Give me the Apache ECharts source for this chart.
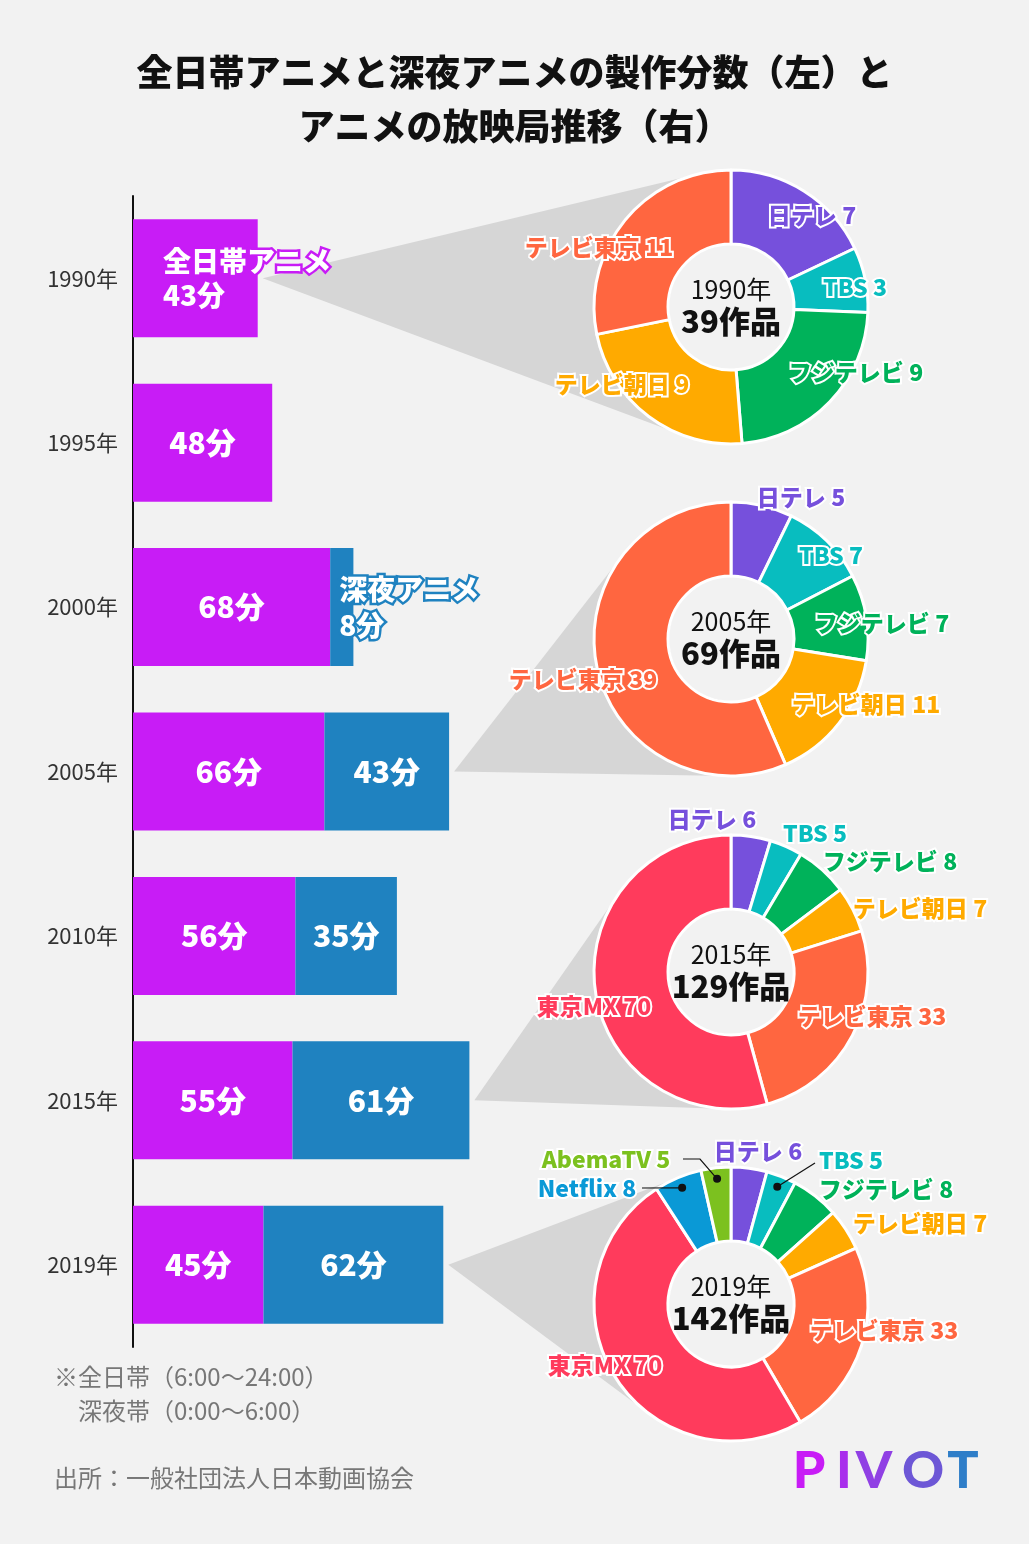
<!DOCTYPE html>
<html><head><meta charset="utf-8">
<script src="https://cdn.jsdelivr.net/npm/echarts@6/dist/echarts.min.js"></script>
<style>html,body{margin:0;padding:0;background:#f2f2f2}#c{width:1029px;height:1544px}</style>
</head><body><div id="c"></div>
<script>
// ---- data ----
const years = ['1990年','1995年','2000年','2005年','2010年','2015年','2019年'];
const dayMinutes = [43, 48, 68, 66, 56, 55, 45];
const nightMinutes = [null, null, 8, 43, 35, 61, 62];

const pieYears = ['1990年', '2005年', '2015年', '2019年'];
const stations1990 = ['日テレ','TBS','フジテレビ','テレビ朝日','テレビ東京'];
const counts1990 = [7, 3, 9, 9, 11];
const stations2005 = ['日テレ','TBS','フジテレビ','テレビ朝日','テレビ東京'];
const counts2005 = [5, 7, 7, 11, 39];
const stations2015 = ['日テレ','TBS','フジテレビ','テレビ朝日','テレビ東京','東京MX'];
const counts2015 = [6, 5, 8, 7, 33, 70];
const stations2019 = ['日テレ','TBS','フジテレビ','テレビ朝日','テレビ東京','東京MX','Netflix','AbemaTV'];
const counts2019 = [6, 5, 8, 7, 33, 70, 8, 5];

// ---- styles / layout ----
const FONT = "'Noto Sans CJK JP','Noto Sans',sans-serif";
const BG = '#f2f2f2';
const PURPLE = '#C81CF6', BLUE = '#1F82C0';
const stationColors = {'日テレ':'#7650DC','TBS':'#08BDBF','フジテレビ':'#00B25A','テレビ朝日':'#FFAA00','テレビ東京':'#FF6640','東京MX':'#FF3B5C','Netflix':'#0A99D6','AbemaTV':'#7CC11F'};
const R_IN = 63, R_OUT = 137;

const pies = [
  {names: stations1990, values: counts1990, bar: 0, center: [731, 307],
   labels: [[812,215],[855,287],[856,372],[622,384],[599,247]]},
  {names: stations2005, values: counts2005, bar: 3, center: [731, 639],
   labels: [[801,497],[831,555],[882,623],[866,704],[583,679]]},
  {names: stations2015, values: counts2015, bar: 5, center: [731, 972],
   labels: [[712,819],[815,833],[890,861],[920,908],[872,1016],[594,1006]]},
  {names: stations2019, values: counts2019, bar: 6, center: [731, 1304],
   labels: [[758,1151],[851,1160],[886,1189],[920,1223],[884,1330],[605,1365],[587,1188],[606,1159]]}
];
// leader lines in 2019 donut: [dataIndex, points from label]
const leaders = [[6, [[642,1188]]], [7, [[683,1159],[700,1159]]], [1, [[815,1163]]]];

const labelBase = {color:'#fff', fontFamily: FONT, fontWeight: 900, fontSize: 30};

const series = [
  {type:'bar', name:'全日帯アニメ', stack:'t', barWidth: 118, itemStyle:{color: PURPLE},
   label: Object.assign({show:true, position:'inside', formatter:'{c}分'}, labelBase),
   data: dayMinutes.map((v, i) => i === 0 ? {value: v, label: {formatter:'全日帯アニメ\n{c}分', position:[30,59], align:'left', verticalAlign:'middle', fontSize:28, lineHeight:34, textBorderColor: PURPLE, textBorderWidth: 5}} : v)},
  {type:'bar', name:'深夜アニメ', stack:'t', barWidth: 118, itemStyle:{color: BLUE},
   label: Object.assign({show:true, position:'inside', formatter:'{c}分'}, labelBase),
   data: nightMinutes.map((v, i) => i === 2 ? {value: v, label: {formatter:'深夜アニメ\n{c}分', position:[9,59], align:'left', verticalAlign:'middle', fontSize:28, lineHeight:36, textBorderColor: BLUE, textBorderWidth: 5}} : (v === null ? '-' : v))}
];

pies.forEach((p) => {
  series.push({
    type:'pie', center: p.center, radius:[R_IN, R_OUT], startAngle: 90, clockwise: true,
    avoidLabelOverlap: false, silent: true,
    itemStyle: {borderColor:'#fff', borderWidth: 3},
    label: {show:true, position:'inside', formatter:'{b} {c}', fontFamily: FONT, fontWeight: 900, fontSize: 23, textBorderColor:'#fff', textBorderWidth: 4},
    labelLine: {show:false},
    labelLayout: function (params) {
      const q = p.labels[params.dataIndex];
      return {x: q[0], y: q[1], align:'center', verticalAlign:'middle'};
    },
    data: p.names.map((n, i) => ({name: n, value: p.values[i], itemStyle:{color: stationColors[n]}, label:{color: stationColors[n]}}))
  });
});

const chart = echarts.init(document.getElementById('c'), null, {renderer:'canvas'});
const option = {
  backgroundColor: BG,
  animation: false,
  title: {text:'全日帯アニメと深夜アニメの製作分数（左）と\nアニメの放映局推移（右）', left:'center', top: 45, padding: 0,
    textStyle:{fontFamily: FONT, fontSize: 36, fontWeight: 900, lineHeight: 54, color:'#111'}},
  grid: {left: 133, top: 196, bottom: 197, width: 580},
  xAxis: {type:'value', min: 0, max: 200, show: false},
  yAxis: {type:'category', inverse: true, data: years,
    axisLine:{lineStyle:{color:'#111', width: 2}}, axisTick:{show:false},
    axisLabel:{fontFamily: FONT, fontSize: 22, color:'#333', margin: 15}},
  series: series
};
chart.setOption(option);

// ---- derived graphics ----
const graphics = [];
pies.forEach((p, k) => {
  const total = (dayMinutes[p.bar] || 0) + (nightMinutes[p.bar] || 0);
  const end = chart.convertToPixel({gridIndex: 0}, [total, p.bar]);
  const ax = end[0] + 5, ay = end[1];
  const cx = p.center[0], cy = p.center[1];
  const dx = cx - ax, dy = cy - ay, d = Math.sqrt(dx*dx + dy*dy);
  const base = Math.atan2(dy, dx), alpha = Math.asin(R_OUT / d), L = Math.sqrt(d*d - R_OUT*R_OUT);
  const t1 = [ax + L*Math.cos(base - alpha), ay + L*Math.sin(base - alpha)];
  const t2 = [ax + L*Math.cos(base + alpha), ay + L*Math.sin(base + alpha)];
  graphics.push({type:'polygon', z: 0, silent: true, shape:{points:[[ax,ay], t1, [cx,cy], t2]}, style:{fill:'#D6D6D6'}});
  graphics.push({type:'circle', z: 1, silent: true, shape:{cx: cx, cy: cy, r: R_IN - 1}, style:{fill: BG}});
  const sum = p.values.reduce((a, b) => a + b, 0);
  graphics.push({type:'text', z: 100, x: cx, y: cy - 18, style:{text: pieYears[k], fontFamily: FONT, fontSize: 25, fill:'#111', align:'center', verticalAlign:'middle'}});
  graphics.push({type:'text', z: 100, x: cx, y: cy + 14, style:{text: sum + '作品', fontFamily: FONT, fontSize: 31, fontWeight: 900, fill:'#111', align:'center', verticalAlign:'middle'}});
});
// leader lines (2019)
(function () {
  const p = pies[3];
  const sum = p.values.reduce((a, b) => a + b, 0);
  leaders.forEach(([idx, pts]) => {
    let before = 0;
    for (let i = 0; i < idx; i++) before += p.values[i];
    const mid = (before + p.values[idx] / 2) / sum * 2 * Math.PI;
    const r = 126;
    const dot = [p.center[0] + r*Math.sin(mid), p.center[1] - r*Math.cos(mid)];
    graphics.push({type:'polyline', z: 100, silent: true, shape:{points: pts.concat([dot])}, style:{stroke:'#111', lineWidth: 1.2, fill: null}});
    graphics.push({type:'circle', z: 100, silent: true, shape:{cx: dot[0], cy: dot[1], r: 4}, style:{fill:'#111'}});
  });
})();
// notes
graphics.push({type:'text', z: 100, x: 54, y: 1377, style:{text:'※全日帯（6:00〜24:00）', fontFamily: FONT, fontSize: 24, fill:'#777', verticalAlign:'middle'}});
graphics.push({type:'text', z: 100, x: 78, y: 1411, style:{text:'深夜帯（0:00〜6:00）', fontFamily: FONT, fontSize: 24, fill:'#777', verticalAlign:'middle'}});
graphics.push({type:'text', z: 100, x: 54, y: 1478, style:{text:'出所：一般社団法人日本動画協会', fontFamily: FONT, fontSize: 24, fill:'#777', verticalAlign:'middle'}});
// logo letters with a purple-to-blue colour ramp
const logoLetters = ['P','I','V','O','T'];
const logoX = [809, 844, 874, 923, 963];
const logoColors = ['#C81CF6','#A92EEC','#9040E4','#6D57D6','#2F7EC8'];
logoLetters.forEach((ch, i) => {
  graphics.push({type:'text', z: 100, x: logoX[i], y: 1471, style:{text: ch, fontFamily:"Lato,'Noto Sans',sans-serif", fontSize: 52, fontWeight: 900, fill: logoColors[i], align:'center', verticalAlign:'middle'}});
});

chart.setOption({graphic: {elements: graphics}});
</script>
</body></html>
